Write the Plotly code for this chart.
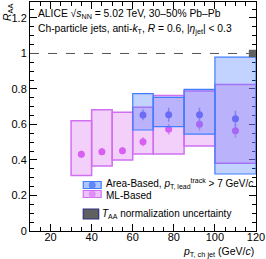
import plotly.graph_objects as go

# ---------------- data ----------------
ml_lo = [30, 40, 50, 60, 70, 85, 100]
ml_hi = [40, 50, 60, 70, 85, 100, 120]
ml_x = [35, 45, 55, 65, 77.5, 92.5, 110]
ml_y = [0.432, 0.447, 0.452, 0.503, 0.573, 0.601, 0.565]
ml_sys_lo = [0.312, 0.366, 0.400, 0.434, 0.434, 0.479, 0.381]
ml_sys_hi = [0.621, 0.683, 0.669, 0.697, 0.764, 0.789, 0.825]
ml_stat = [0.02, 0.02, 0.02, 0.025, 0.03, 0.035, 0.04]

ar_lo = [60, 70, 85, 100]
ar_hi = [70, 85, 100, 120]
ar_x = [65, 77.5, 92.5, 110]
ar_y = [0.654, 0.655, 0.655, 0.633]
ar_sys_lo = [0.569, 0.588, 0.546, 0.321]
ar_sys_hi = [0.774, 0.753, 0.798, 0.979]
ar_stat = [0.03, 0.04, 0.04, 0.045]

taa_x = [116.5, 120]
taa_y = [0.979, 1.021]

XR = [10, 120]
YR = [0, 1.29]

FONT = "Liberation Sans, Arial, sans-serif"
ML_FILL = "rgba(220,120,240,0.35)"
ML_LINE = "#d070f0"
ML_MARK = "#d452f2"
AR_FILL = "rgba(70,120,255,0.33)"
AR_LINE = "#3f7fff"
AR_MARK = "#4a5cf0"

fig = go.Figure()
shapes = []

for lo, hi, a, b in zip(ml_lo, ml_hi, ml_sys_lo, ml_sys_hi):
    shapes.append(dict(type="rect", xref="x", yref="y", x0=lo, x1=hi, y0=a, y1=b,
                       fillcolor=ML_FILL, line=dict(color=ML_LINE, width=1.5), layer="above"))
for lo, hi, a, b in zip(ar_lo, ar_hi, ar_sys_lo, ar_sys_hi):
    shapes.append(dict(type="rect", xref="x", yref="y", x0=lo, x1=hi, y0=a, y1=b,
                       fillcolor=AR_FILL, line=dict(color=AR_LINE, width=1.2), layer="above"))

# unity line
shapes.append(dict(type="line", xref="x", yref="y", x0=XR[0], x1=taa_x[0], y0=1, y1=1,
                   line=dict(color="#555555", width=1, dash="dash"), layer="above"))
# TAA box
shapes.append(dict(type="rect", xref="x", yref="y", x0=taa_x[0], x1=taa_x[1], y0=taa_y[0], y1=taa_y[1],
                   fillcolor="#606060", line=dict(width=0), layer="above"))

fig.add_trace(go.Scatter(x=ml_x, y=ml_y, mode="markers",
                         marker=dict(color=ML_MARK, size=7),
                         error_y=dict(type="data", array=ml_stat, color="#d890f0", thickness=1.5, width=0),
                         showlegend=False))
fig.add_trace(go.Scatter(x=ar_x, y=ar_y, mode="markers",
                         marker=dict(color=AR_MARK, size=7),
                         error_y=dict(type="data", array=ar_stat, color="#8090f0", thickness=1.5, width=0),
                         showlegend=False))

# manual legend (paper coords)
def px2paper(px, py):
    return (px - 29.5) / 227.0, (231 - py) / 229.0

ann = []
def legbox(x0, y0, x1, y1, fill, line):
    a0, b0 = px2paper(x0, y1)
    a1, b1 = px2paper(x1, y0)
    shapes.append(dict(type="rect", xref="paper", yref="paper", x0=a0, x1=a1, y0=b0, y1=b1,
                       fillcolor=fill, line=dict(color=line, width=1.2), layer="above"))

legbox(83, 181.5, 101, 188.5, "rgba(120,160,255,0.6)", AR_LINE)
legbox(83, 190.5, 101, 197.5, "rgba(230,170,250,0.7)", ML_LINE)
legbox(83, 209, 98.5, 219, "#606060", "#303080")

lxp, _ = px2paper(92, 0)
_, ly1p = px2paper(0, 185)
_, ly2p = px2paper(0, 194)
lx = XR[0] + lxp * (XR[1] - XR[0])
fig.add_trace(go.Scatter(x=[lx], y=[YR[0] + ly1p * (YR[1] - YR[0])], mode="markers",
                         marker=dict(color=AR_MARK, size=7), showlegend=False, hoverinfo="skip"))
fig.add_trace(go.Scatter(x=[lx], y=[YR[0] + ly2p * (YR[1] - YR[0])], mode="markers",
                         marker=dict(color=ML_MARK, size=7), showlegend=False, hoverinfo="skip"))

def text(px, py, s, size=10, xanchor="left", yanchor="middle", angle=0):
    x, y = px2paper(px, py)
    ann.append(dict(x=x, y=y, xref="paper", yref="paper", text=s, showarrow=False,
                    xanchor=xanchor, yanchor=yanchor, textangle=angle,
                    font=dict(family=FONT, size=size, color="black")))

text(103.5, 183, "Area-Based, <i>p</i><sub>T, lead</sub><sup>track</sup> > 7 GeV/<i>c</i>", size=10)
text(103.5, 195, "ML-Based", size=10)
text(100, 214, "<i>T</i><sub>AA</sub> normalization uncertainty", size=10)
text(36, 14, "ALICE √<i>s</i><sub>NN</sub> = 5.02 TeV, 30–50% Pb–Pb", size=10.3)
text(36, 29, "Ch-particle jets, anti-<i>k</i><sub>T</sub>, <i>R</i> = 0.6, |<i>η</i><sub>jet</sub>| < 0.3", size=10.3)
text(256, 252, "<i>p</i><sub>T, ch jet</sub> (GeV/<i>c</i>)", size=10.5, xanchor="right")
text(7, 2, "<i>R</i><sub>AA</sub>", size=10.5, xanchor="center", yanchor="top", angle=-90)

axcommon = dict(showline=True, linecolor="black", linewidth=1, mirror="allticks",
                ticks="inside", ticklen=7, tickcolor="black", showgrid=False, zeroline=False,
                tickfont=dict(family=FONT, size=11, color="black"))

fig.update_layout(
    width=266, height=259,
    margin=dict(l=29.5, r=9.5, t=2, b=28),
    paper_bgcolor="white", plot_bgcolor="white",
    shapes=shapes, annotations=ann, showlegend=False,
    xaxis=dict(range=XR, dtick=20, tick0=0, ticklabelstandoff=-4,
               minor=dict(ticks="inside", ticklen=4, dtick=5, tickcolor="black", showgrid=False),
               **axcommon),
    yaxis=dict(range=YR, dtick=0.2, tick0=0,
               minor=dict(ticks="inside", ticklen=4, dtick=0.05, tickcolor="black", showgrid=False),
               **axcommon),
)

fig.write_html("out.html", config={"displayModeBar": False},
               post_script="document.body.style.margin='0';document.body.style.padding='0';")
